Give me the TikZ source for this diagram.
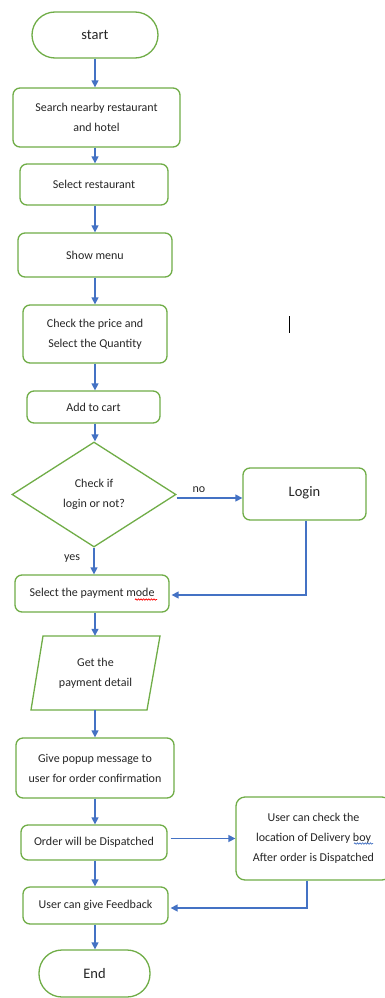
\documentclass[tikz,border=0pt]{standalone}
\usepackage{fontspec}
\setmainfont{Carlito}
\usetikzlibrary{shapes.geometric,arrows.meta,decorations.pathmorphing,calc}
\definecolor{flgreen}{HTML}{70AD47}
\definecolor{flblue}{HTML}{4472C4}
\definecolor{txt}{HTML}{262626}
\begin{document}
\begin{tikzpicture}[x=1pt,y=-1pt,
  box/.style={draw=flgreen, line width=1.3pt, rounded corners=7pt, align=center,
    font=\fontsize{12}{20}\selectfont, text=txt, inner sep=0pt},
  term/.style={box, rounded corners=23pt, font=\fontsize{14.5}{17}\selectfont},
  arr/.style={draw=flblue, line width=1.4pt, -{Triangle[length=7pt,width=7pt]}},
  lbl/.style={font=\fontsize{12}{14}\selectfont, text=txt, inner sep=0pt},
  wavy/.style={line width=0.7pt, decorate, decoration={snake, amplitude=0.7pt, segment length=2.6pt}}
]
\useasboundingbox (0,0) rectangle (385,998);
\fill[white] (0,0) rectangle (385,998);
\coordinate (sp) at (95,0);

\node[term, minimum width=126pt, minimum height=46pt] (start) at (95,35) {start};
\node[box, minimum width=167pt, minimum height=59pt] (search) at (96.5,117.5) {Search nearby restaurant\\and hotel};
\node[box, minimum width=148pt, minimum height=41pt] (selrest) at (94,184.5) {Select restaurant};
\node[box, minimum width=154pt, minimum height=44pt] (menu) at (95,255) {Show menu};
\node[box, minimum width=144pt, minimum height=58pt] (price) at (95,334) {Check the price and\\Select the Quantity};
\node[box, minimum width=133pt, minimum height=32pt] (cart) at (93.5,407) {Add to cart};
\node[draw=flgreen, line width=1.3pt, diamond, aspect=1.56, minimum width=164pt, minimum height=105pt,
  inner sep=0pt, align=center, font=\fontsize{12}{20}\selectfont, text=txt] (dec) at (94,494.5) {Check if\\login or not?};
\node[box, minimum width=123pt, minimum height=52pt, font=\fontsize{14.5}{17}\selectfont] (login) at (304.5,494) {\raisebox{4pt}{Login}};
\node[box, minimum width=154pt, minimum height=37pt] (payment) at (92,593.5) {Select the payment mode};
\node[align=center, font=\fontsize{12}{20}\selectfont, text=txt, inner sep=0pt,
  minimum width=117pt, minimum height=74pt] (getpay) at (95.5,673) {Get the\\payment detail};
\draw[flgreen, line width=1.3pt] (43,636) -- (160,636) -- (147,710) -- (31,710) -- cycle;
\node[box, minimum width=158pt, minimum height=60pt] (popup) at (95,768) {Give popup message to\\user for order confirmation};
\node[box, minimum width=146pt, minimum height=35pt] (order) at (94,842.5) {Order will be Dispatched};
\node[box, minimum width=155pt, minimum height=83pt, rounded corners=9pt] (check) at (313.5,838.5) {User can check the\\location of Delivery boy\\After order is Dispatched};
\node[box, minimum width=145pt, minimum height=37pt] (feed) at (95.5,905.5) {User can give Feedback};
\node[term, minimum width=111pt, minimum height=47pt] (end) at (94.5,973.5) {End};

\node[lbl] (no) at (199,490) {no};
\node[lbl] (yes) at (72,559) {yes};

\draw[arr] (start.south -| sp) -- (search.north -| sp);
\draw[arr] (search.south -| sp) -- (selrest.north -| sp);
\draw[arr] (selrest.south -| sp) -- (menu.north -| sp);
\draw[arr] (menu.south -| sp) -- (price.north -| sp);
\draw[arr] (price.south -| sp) -- (cart.north -| sp);
\draw[arr] (cart.south -| sp) -- (dec.north -| sp);
\draw[arr] ($(dec.east)+(0,3.5)$) -- ($(login.west |- dec.east)+(0,3.5)$);
\draw[arr] (dec.south) -- (payment.north -| dec.south);
\draw[arr] ($(login.south)+(1.5,0)$) |- ($(payment.east)+(2,1.5)$);
\draw[arr] (payment.south -| sp) -- (getpay.north -| sp);
\draw[arr] (getpay.south -| sp) -- (popup.north -| sp);
\draw[arr] (popup.south -| sp) -- (order.north -| sp);
\draw[arr] ($(order.east |- check.west)+(3,0)$) -- (check.west);
\draw[arr] (order.south -| sp) -- (feed.north -| sp);
\draw[arr] ($(check.south)+(-6.5,0)$) |- ($(feed.east)+(2,2.5)$);
\draw[arr] (feed.south -| sp) -- (end.north -| sp);

\draw[red, wavy] (135,599.5) -- (157,599.5);
\draw[flblue, wavy] (354,843.5) -- (373,843.5);
\draw[black, line width=0.8pt] (289.5,316) -- (289.5,333);
\end{tikzpicture}
\end{document}
